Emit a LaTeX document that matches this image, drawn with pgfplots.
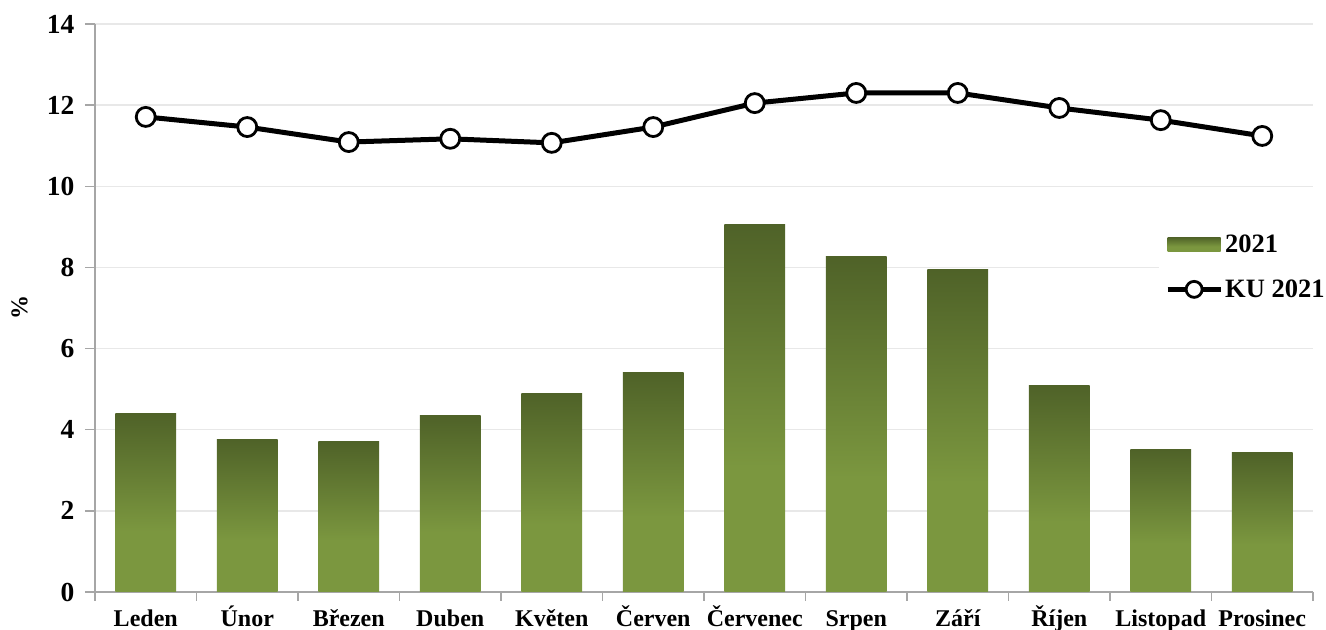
\documentclass[border=0pt]{standalone}
\usepackage{fontspec}
\setmainfont{Liberation Serif}
\usepackage{pgfplots}
\pgfplotsset{compat=1.18}
\definecolor{dk}{HTML}{4F6228}
\definecolor{lt}{HTML}{7B973F}
\definecolor{axgray}{HTML}{A6A6A6}
\definecolor{gridgray}{HTML}{E8E8E8}
\pgfdeclareverticalshading{barshade}{100bp}{color(0bp)=(lt); color(25bp)=(lt); color(42bp)=(lt); color(75bp)=(dk); color(100bp)=(dk)}
\pgfplotsset{mybar/.style={ybar, bar width=0.6, draw=none, shading=barshade}}
\begin{document}
\begin{tikzpicture}
\begin{axis}[
  name=ax,
  scale only axis,
  width=1218pt, height=568pt,
  xmin=-0.5, xmax=11.5,
  ymin=0, ymax=14,
  ytick={0,2,...,14},
  xtick={0,...,11},
  xticklabels={Leden,Únor,Březen,Duben,Květen,Červen,Červenec,Srpen,Září,Říjen,Listopad,Prosinec},
  xtick style={draw=none},
  extra x ticks={-0.5,0.5,...,11.5},
  extra x tick labels={},
  extra x tick style={xtick style={draw=axgray,line width=1.5pt}, major tick length=9pt, grid=none},
  axis lines*=left,
  axis line style={draw=axgray, line width=1.5pt},
  ytick style={draw=axgray, line width=1.5pt},
  tick align=outside,
  major tick length=10pt,
  ymajorgrids,
  grid style={draw=gridgray, line width=1.5pt},
  /pgf/number format/assume math mode=true,
  tick label style={font=\fontsize{27.5}{30}\selectfont\bfseries},
  xticklabel style={font=\fontsize{24}{28}\selectfont\bfseries, text height=18pt, text depth=6pt, yshift=-3pt},
  yticklabel style={xshift=-7pt},
  ylabel={\%},
  ylabel style={font=\fontsize{24}{28}\selectfont\bfseries, at={(axis description cs:-0.062,0.5)}, anchor=center},
  legend style={at={(axis description cs:0.8735,0.64)}, anchor=north west, draw=none, fill=white,
    font=\fontsize{26.5}{30}\selectfont\bfseries, row sep=22pt, inner xsep=6pt, inner ysep=4pt},
  legend cell align=left,
  clip=false,
]
\addplot[mybar, legend image code/.code={\shade[shading=barshade,draw=none] (0pt,-7pt) rectangle (53pt,7pt);}]
  coordinates {(0,4.41)};
\addlegendentry{2021}
\addplot[mybar, forget plot] coordinates {(1,3.77)};
\addplot[mybar, forget plot] coordinates {(2,3.72)};
\addplot[mybar, forget plot] coordinates {(3,4.34)};
\addplot[mybar, forget plot] coordinates {(4,4.90)};
\addplot[mybar, forget plot] coordinates {(5,5.42)};
\addplot[mybar, forget plot] coordinates {(6,9.07)};
\addplot[mybar, forget plot] coordinates {(7,8.26)};
\addplot[mybar, forget plot] coordinates {(8,7.94)};
\addplot[mybar, forget plot] coordinates {(9,5.10)};
\addplot[mybar, forget plot] coordinates {(10,3.52)};
\addplot[mybar, forget plot] coordinates {(11,3.43)};
\addplot[black, line width=5pt, mark=*, mark size=9.5pt, mark options={fill=white, draw=black, line width=2.8pt},
  legend image code/.code={\draw[black,line width=5pt] (0pt,0pt) -- (53pt,0pt); \draw[black,fill=white,line width=2.8pt] (26.5pt,0pt) circle (8pt);}]
  coordinates {(0,11.71) (1,11.46) (2,11.09) (3,11.17) (4,11.07) (5,11.46) (6,12.05) (7,12.30) (8,12.30) (9,11.93) (10,11.63) (11,11.24)};
\addlegendentry{KU 2021}
\end{axis}
\pgfresetboundingbox
\path[use as bounding box] ([xshift=-95pt,yshift=-38pt]ax.south west) rectangle ([xshift=13pt,yshift=24pt]ax.north east);
\end{tikzpicture}
\end{document}
